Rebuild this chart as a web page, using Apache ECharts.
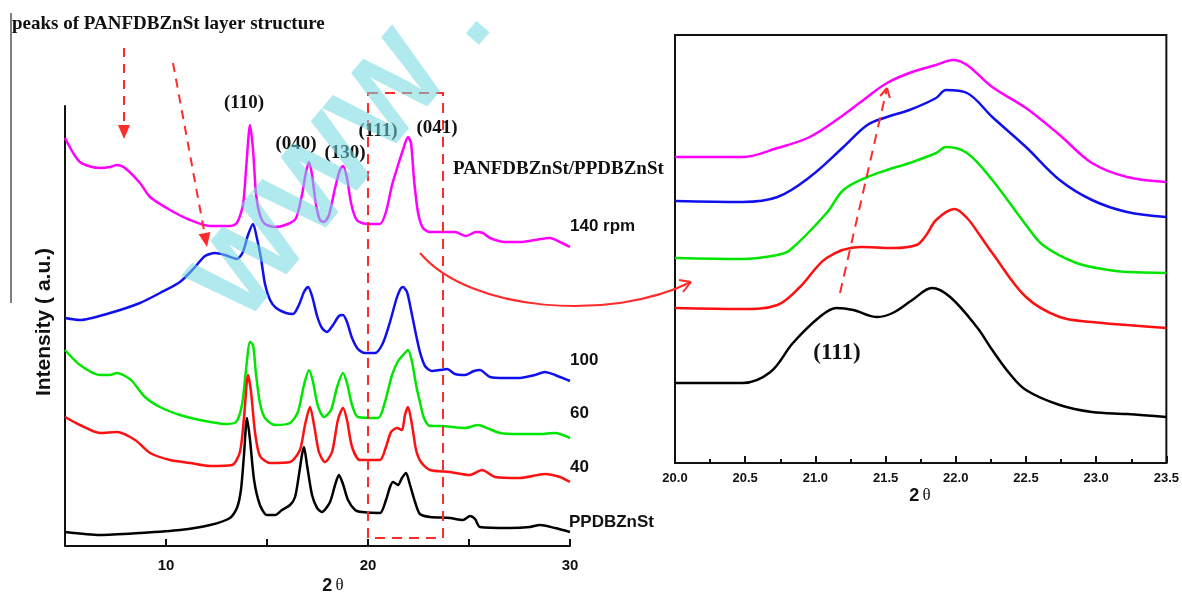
<!DOCTYPE html>
<html>
<head>
<meta charset="utf-8">
<script src="https://cdn.jsdelivr.net/npm/echarts@6/dist/echarts.min.js"></script>
<style>
html,body{margin:0;padding:0;background:#fff;}
#c{width:1182px;height:596px;}
</style>
</head>
<body>
<div id="c"></div>
<script>
// ---------- DATA (2θ, intensity in arbitrary units, curves offset as in the figure) ----------
const leftTicks = [10, 20, 30];
const rightTicks = [20.0, 20.5, 21.0, 21.5, 22.0, 22.5, 23.0, 23.5];
const seriesNames = ['140 rpm', '100', '60', '40', 'PPDBZnSt'];

const mag140 = [[5.00,408],[5.74,384],[6.73,378],[7.23,379],[7.57,381],[7.97,378],[8.71,363],[9.21,349],[10.20,336],[11.19,326],[12.18,320],[13.17,320],[13.51,323],[13.81,341],[13.96,376],[14.16,421],[14.31,396],[14.46,351],[14.65,331],[14.90,322],[15.40,319],[16.04,322],[16.44,328],[16.73,351],[16.93,374],[17.08,384],[17.23,371],[17.43,341],[17.62,326],[17.82,324],[18.07,331],[18.37,358],[18.61,376],[18.76,380],[18.96,368],[19.16,343],[19.41,327],[19.70,323],[20.20,322],[20.59,322],[20.89,334],[21.19,361],[21.49,381],[21.73,396],[21.98,409],[22.13,403],[22.28,366],[22.48,333],[22.72,318],[23.07,314],[23.66,314],[24.31,314],[24.85,310],[25.35,314],[25.69,313],[26.04,308],[26.78,304],[27.52,304],[28.27,306],[29.01,308],[29.50,304],[30.00,299]];
const blue100 = [[5.00,228],[5.74,226],[7.23,233],[8.71,243],[9.70,253],[10.69,264],[11.44,279],[11.93,290],[12.43,293],[12.92,291],[13.51,287],[13.81,294],[14.06,311],[14.31,322],[14.50,308],[14.70,288],[14.90,262],[15.15,246],[15.45,238],[15.94,233],[16.29,232],[16.58,241],[16.83,254],[17.03,259],[17.23,250],[17.48,230],[17.72,218],[17.97,214],[18.27,221],[18.56,230],[18.76,231],[18.96,224],[19.21,208],[19.50,197],[19.85,193],[20.35,193],[20.74,203],[21.09,224],[21.39,246],[21.58,256],[21.73,259],[21.93,254],[22.13,236],[22.38,211],[22.57,194],[22.82,180],[23.17,175],[23.56,176],[23.91,177],[24.31,172],[24.80,171],[25.25,175],[25.54,176],[26.04,169],[26.78,168],[27.52,168],[28.27,171],[28.76,174],[29.26,171],[30.00,165]];
const green60 = [[5.00,196],[5.74,181],[6.73,171],[7.23,171],[7.57,173],[7.97,170],[8.32,165],[8.96,149],[9.70,139],[10.69,131],[11.68,126],[12.92,122],[13.47,124],[13.76,141],[13.96,176],[14.16,204],[14.31,201],[14.46,171],[14.65,143],[14.90,128],[15.40,121],[16.14,123],[16.53,134],[16.83,161],[17.08,176],[17.28,164],[17.52,140],[17.82,129],[18.17,136],[18.47,159],[18.76,173],[18.96,163],[19.21,141],[19.50,129],[20.50,128],[20.84,144],[21.19,171],[21.49,185],[21.78,192],[21.98,196],[22.18,184],[22.38,161],[22.57,144],[22.77,128],[23.07,120],[23.56,120],[24.80,118],[25.45,121],[25.89,118],[26.53,113],[27.52,112],[28.51,112],[29.26,113],[30.00,108]];
const red40 = [[5.00,129],[5.74,121],[6.73,113],[7.57,114],[8.47,106],[9.21,93],[10.20,86],[11.19,83],[12.18,80],[13.27,81],[13.66,94],[13.86,128],[14.06,171],[14.21,154],[14.41,113],[14.65,90],[15.15,83],[16.14,84],[16.63,96],[16.88,121],[17.13,139],[17.33,121],[17.57,94],[17.87,84],[18.22,94],[18.51,126],[18.76,138],[18.96,126],[19.21,99],[19.60,86],[20.59,86],[20.89,99],[21.14,114],[21.44,118],[21.68,116],[21.83,131],[21.98,139],[22.18,121],[22.38,96],[22.62,84],[23.07,76],[24.06,74],[25.05,71],[25.64,76],[26.29,69],[27.52,68],[28.76,72],[29.50,69],[30.00,64]];
const blackPP = [[5.00,14],[6.73,11],[8.71,13],[10.69,16],[12.18,21],[13.17,28],[13.51,38],[13.71,56],[13.86,91],[14.01,128],[14.16,106],[14.36,66],[14.65,41],[15.00,31],[15.40,31],[15.74,36],[16.14,41],[16.39,49],[16.58,71],[16.73,91],[16.83,99],[16.98,81],[17.23,51],[17.48,38],[17.72,34],[18.12,44],[18.37,61],[18.56,71],[18.76,62],[19.01,46],[19.36,36],[19.70,34],[20.59,33],[20.89,46],[21.09,59],[21.24,64],[21.49,61],[21.68,68],[21.88,73],[22.08,61],[22.33,44],[22.57,32],[23.07,29],[24.06,28],[24.70,26],[25.05,30],[25.30,27],[25.54,19],[27.03,18],[28.02,19],[28.51,21],[29.26,18],[30.00,14]];

// zoomed region 20–23.5°
const zMag = [[20.00,306],[20.48,306],[20.73,315],[20.96,326],[21.20,348],[21.37,366],[21.51,380],[21.67,390],[21.86,398],[21.98,403],[22.08,398],[22.26,376],[22.50,355],[22.74,328],[22.97,300],[23.22,286],[23.50,281]];
const zBlue = [[20.00,262],[20.48,261],[20.73,266],[20.96,286],[21.20,316],[21.37,338],[21.51,346],[21.67,353],[21.86,365],[21.93,373],[22.08,370],[22.26,346],[22.50,316],[22.74,283],[22.97,263],[23.22,251],[23.50,246]];
const zGreen = [[20.00,205],[20.48,204],[20.73,208],[20.82,213],[21.08,250],[21.20,273],[21.37,286],[21.51,293],[21.67,300],[21.86,310],[21.93,316],[22.08,310],[22.26,283],[22.50,238],[22.62,218],[22.86,200],[23.09,193],[23.22,191],[23.50,190]];
const zRed = [[20.00,155],[20.48,154],[20.73,158],[20.89,176],[21.08,205],[21.32,216],[21.55,215],[21.72,218],[21.79,228],[21.86,243],[21.99,254],[22.08,245],[22.17,228],[22.26,210],[22.50,166],[22.74,146],[22.97,141],[23.22,138],[23.50,135]];
const zBlack = [[20.00,80],[20.48,80],[20.68,91],[20.84,120],[21.03,146],[21.15,155],[21.27,153],[21.44,146],[21.55,150],[21.69,163],[21.83,175],[21.96,166],[22.15,136],[22.26,113],[22.38,90],[22.50,73],[22.74,58],[22.97,51],[23.22,49],[23.50,46]];

const colors = ['#ff00ff', '#1010ee', '#00e600', '#ff1010', '#000000'];
const leftData = [mag140, blue100, green60, red40, blackPP];
const rightData = [zMag, zBlue, zGreen, zRed, zBlack];

// ---------- CHART ----------
const chart = echarts.init(document.getElementById('c'));
const sans = '"Liberation Sans", Arial, sans-serif';
const serif = '"Liberation Serif", "Times New Roman", serif';
const RED = '#ff2a2a';

const series = [];
leftData.forEach((d, i) => series.push({
  type: 'line', xAxisIndex: 0, yAxisIndex: 0, data: d, showSymbol: false,
  smooth: 0.25, lineStyle: {color: colors[i], width: 2.5}, z: 3, silent: true
}));
rightData.forEach((d, i) => series.push({
  type: 'line', xAxisIndex: 1, yAxisIndex: 1, data: d, showSymbol: false,
  smooth: 0.35, lineStyle: {color: colors[i], width: 2.5}, z: 3, silent: true
}));

function txt(text, x, y, font, opts) {
  return {type: 'text', z: 20, silent: true,
    style: Object.assign({text, x, y, font, fill: '#111', textAlign: 'left', textVerticalAlign: 'middle'}, opts || {})};
}
function line(x1, y1, x2, y2, dash, w, col) {
  return {type: 'line', z: 15, silent: true, shape: {x1, y1, x2, y2},
    style: {stroke: col || RED, lineWidth: w || 2, lineDash: dash || null}};
}

const graphics = [
  // stray vertical rule at far left
  line(11, 13, 11, 303, null, 1.5, '#555'),
  txt('peaks of PANFDBZnSt layer structure', 12, 24, 'bold 19px ' + serif),
  // dashed arrows
  line(124, 48, 124, 126, [9, 7], 2),
  {type: 'polygon', z: 15, silent: true, shape: {points: [[124, 139], [118, 125], [130, 125]]}, style: {fill: RED}},
  line(173, 63, 204.5, 233, [9, 7], 2),
  {type: 'polygon', z: 15, silent: true, shape: {points: [[207, 247], [210.4, 232], [198.6, 234.3]]}, style: {fill: RED}},
  // peak labels
  txt('(110)', 244, 103, 'bold 19px ' + serif, {textAlign: 'center'}),
  txt('(040)', 296, 144, 'bold 19px ' + serif, {textAlign: 'center'}),
  txt('(130)', 345, 153, 'bold 19px ' + serif, {textAlign: 'center'}),
  txt('(111)', 378, 131, 'bold 19px ' + serif, {textAlign: 'center'}),
  txt('(041)', 437, 128, 'bold 19px ' + serif, {textAlign: 'center'}),
  txt('PANFDBZnSt/PPDBZnSt', 453, 169, 'bold 19px ' + serif),
  // sample labels
  txt('140 rpm', 570, 226, 'bold 17px ' + sans),
  txt('100', 570, 360, 'bold 17px ' + sans),
  txt('60', 570, 413, 'bold 17px ' + sans),
  txt('40', 570, 467, 'bold 17px ' + sans),
  txt('PPDBZnSt', 569, 522, 'bold 17px ' + sans),
  // dashed box around 20–23.5°
  {type: 'rect', z: 15, silent: true, shape: {x: 368, y: 93, width: 75, height: 445},
   style: {fill: null, stroke: RED, lineWidth: 2, lineDash: [10, 7]}},
  // curved connector arrow
  {type: 'bezierCurve', z: 15, silent: true,
   shape: {x1: 420, y1: 253, cpx1: 470, cpy1: 312, cpx2: 610, cpy2: 322, x2: 691, y2: 282},
   style: {stroke: RED, lineWidth: 2, fill: null}},
  line(691, 282, 679, 280, null, 2),
  line(691, 282, 683, 292, null, 2),
  // right panel dashed arrow
  line(840, 293, 887, 88, [10, 7], 2),
  line(887, 88, 889.9, 98, null, 2),
  line(887, 88, 880.2, 96, null, 2),
  txt('(111)', 837, 353, 'bold 23px ' + serif, {textAlign: 'center'}),
  // axis titles
  {type: 'text', z: 20, silent: true, x: 44, y: 322, rotation: Math.PI / 2,
   style: {text: 'Intensity ( a.u.)', font: 'bold 21px ' + sans, fill: '#111', textAlign: 'center', textVerticalAlign: 'middle'}},
  {type: 'text', z: 20, silent: true, style: {
    text: '{b|2} {t|θ}', x: 333, y: 586, textAlign: 'center', textVerticalAlign: 'middle',
    rich: {b: {font: 'bold 18px ' + sans, fill: '#111'}, t: {font: '17px ' + serif, fill: '#111'}}}},
  {type: 'text', z: 20, silent: true, style: {
    text: '{b|2} {t|θ}', x: 920, y: 496, textAlign: 'center', textVerticalAlign: 'middle',
    rich: {b: {font: 'bold 18px ' + sans, fill: '#111'}, t: {font: '17px ' + serif, fill: '#111'}}}},
  // watermark
  {type: 'text', z: 30, silent: true, x: 344, y: 156, rotation: 50 * Math.PI / 180,
   style: {text: 'WWW .', font: 'bold 116px ' + sans, fill: '#6fd8e0', opacity: 0.55, textAlign: 'center', textVerticalAlign: 'middle'}}
];

chart.setOption({
  animation: false,
  backgroundColor: '#fff',
  grid: [
    {left: 65, top: 106, width: 505, height: 440, show: false},
    {left: 675, top: 35, width: 492, height: 428, show: true, borderColor: '#111', borderWidth: 2, backgroundColor: 'transparent'}
  ],
  xAxis: [
    {type: 'value', gridIndex: 0, min: 5, max: 30, interval: 5,
     axisLine: {lineStyle: {color: '#111', width: 2}},
     axisTick: {inside: true, length: 7, lineStyle: {color: '#111', width: 2}},
     axisLabel: {margin: 12, color: '#111', fontFamily: sans, fontWeight: 'bold', fontSize: 15,
       formatter: v => (leftTicks.indexOf(v) >= 0 ? String(v) : '')},
     splitLine: {show: false}},
    {type: 'value', gridIndex: 1, min: 20, max: 23.5, interval: 0.5,
     axisLine: {lineStyle: {color: '#111', width: 2}},
     axisTick: {inside: true, length: 7, lineStyle: {color: '#111', width: 2}},
     minorTick: {show: true, splitNumber: 2, length: 4, lineStyle: {color: '#111', width: 2}},
     axisLabel: {margin: 9, color: '#111', fontFamily: sans, fontWeight: 'bold', fontSize: 13,
       showMinLabel: true, showMaxLabel: true,
       formatter: v => (rightTicks.some(t => Math.abs(t - v) < 1e-6) ? v.toFixed(1) : '')},
     splitLine: {show: false}}
  ],
  yAxis: [
    {type: 'value', gridIndex: 0, min: 0, max: 440,
     axisLine: {show: true, lineStyle: {color: '#111', width: 2}},
     axisTick: {show: false}, axisLabel: {show: false}, splitLine: {show: false}},
    {type: 'value', gridIndex: 1, min: 0, max: 428,
     axisLine: {show: true, lineStyle: {color: '#111', width: 2}},
     axisTick: {show: false}, axisLabel: {show: false}, splitLine: {show: false}}
  ],
  series: series,
  graphic: graphics
});
</script>
</body>
</html>
